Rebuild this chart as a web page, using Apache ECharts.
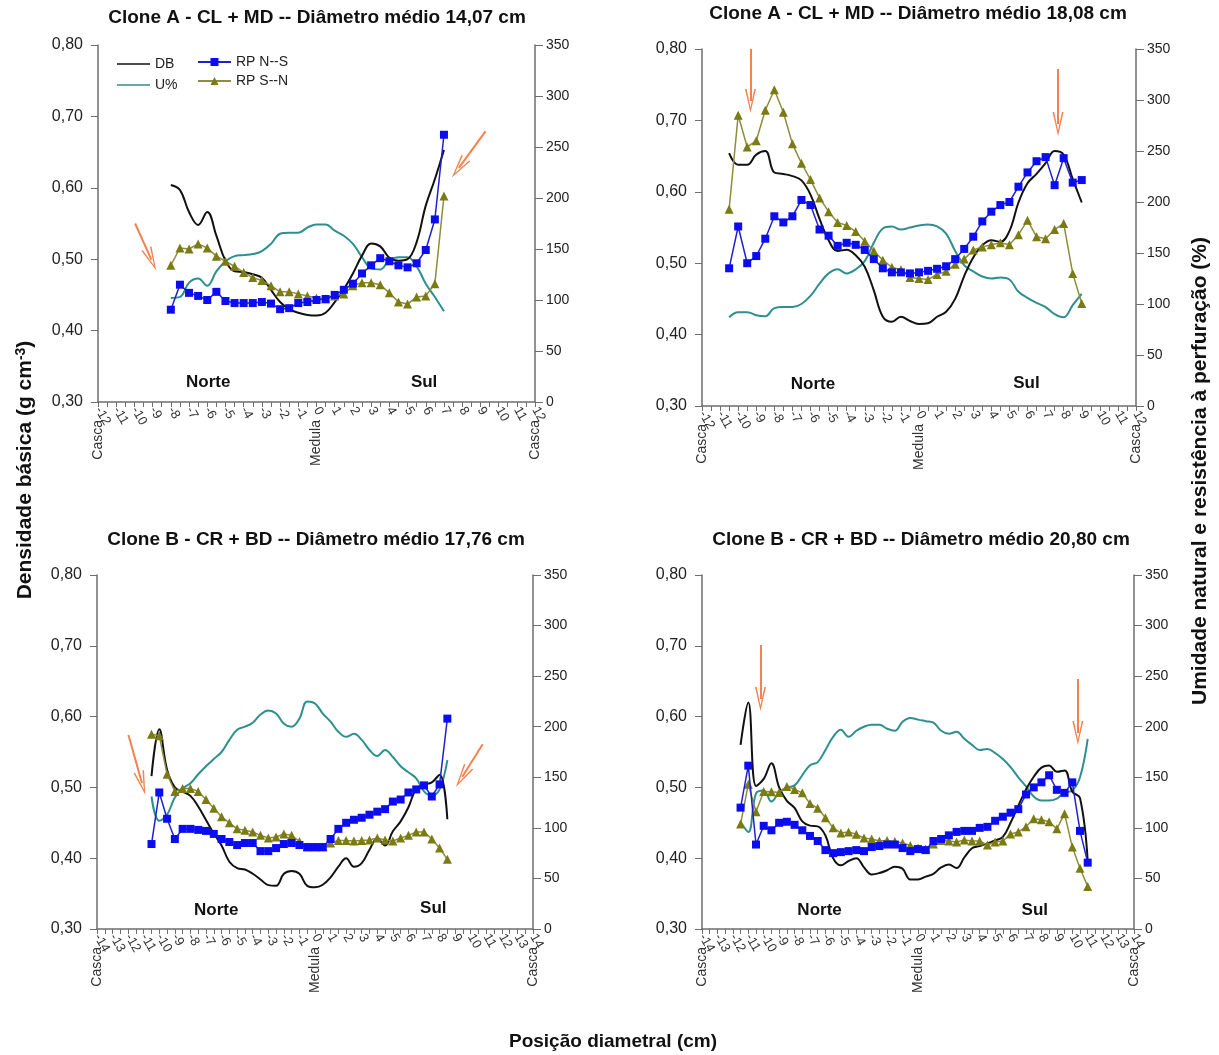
<!DOCTYPE html>
<html>
<head>
<meta charset="utf-8">
<title>Densidade básica, umidade e resistência à perfuração</title>
<script src="https://cdn.jsdelivr.net/npm/echarts/dist/echarts.min.js"></script>
<style>
  html, body { margin: 0; padding: 0; background: #fff; }
  #chart { width: 1219px; height: 1055px; }
</style>
</head>
<body>
<div id="chart"></div>
<script>
// posição diametral (cm) de cada leitura
const pos1 = [-8, -7.5, -7, -6.5, -6, -5.5, -5, -4.5, -4, -3.5, -3, -2.5, -2, -1.5, -1, -0.5, 0, 0.5, 1, 1.5, 2, 2.5, 3, 3.5, 4, 4.5, 5, 5.5, 6, 6.5, 7];
const pos2 = [-10.5, -10, -9.5, -9, -8.5, -8, -7.5, -7, -6.5, -6, -5.5, -5, -4.5, -4, -3.5, -3, -2.5, -2, -1.5, -1, -0.5, 0, 0.5, 1, 1.5, 2, 2.5, 3, 3.5, 4, 4.5, 5, 5.5, 6, 6.5, 7, 7.5, 8, 8.5, 9];
const pos3 = [-10.5, -10, -9.5, -9, -8.5, -8, -7.5, -7, -6.5, -6, -5.5, -5, -4.5, -4, -3.5, -3, -2.5, -2, -1.5, -1, -0.5, 0, 0.5, 1, 1.5, 2, 2.5, 3, 3.5, 4, 4.5, 5, 5.5, 6, 6.5, 7, 7.5, 8, 8.5];
const pos4 = [-11.5, -11, -10.5, -10, -9.5, -9, -8.5, -8, -7.5, -7, -6.5, -6, -5.5, -5, -4.5, -4, -3.5, -3, -2.5, -2, -1.5, -1, -0.5, 0, 0.5, 1, 1.5, 2, 2.5, 3, 3.5, 4, 4.5, 5, 5.5, 6, 6.5, 7, 7.5, 8, 8.5, 9, 9.5, 10, 10.5, 11];

// Clone A - 14,07 cm
const db1 = [0.604, 0.597, 0.566, 0.548, 0.566, 0.533, 0.498, 0.483, 0.482, 0.479, 0.474, 0.457, 0.440, 0.430, 0.425, 0.422, 0.421, 0.425, 0.440, 0.458, 0.480, 0.505, 0.522, 0.518, 0.502, 0.498, 0.500, 0.524, 0.575, 0.612, 0.653];
const u1 = [102, 103, 117, 121, 114, 128, 138, 143, 144, 145, 148, 155, 165, 166, 166, 171, 174, 174, 168, 163, 155, 142, 131, 130, 139, 142, 142, 133, 116, 103, 89];
const rpNS1 = [90.5, 115, 107, 104, 100, 108, 99, 97, 97, 97, 98, 96.5, 91, 92, 97, 98, 100, 101, 105, 110, 116, 126, 134, 141, 138, 134, 132, 136, 149, 179, 262];
const rpSN1 = [134, 151, 150, 155, 151, 143, 138, 133, 127, 122, 119, 114, 108, 108, 106, 104, 102, 101, 104, 106, 114, 117, 117, 115, 107, 98, 96, 103, 104, 116, 202];

// Clone A - 18,08 cm
const db2 = [0.654, 0.638, 0.638, 0.652, 0.657, 0.627, 0.625, 0.622, 0.616, 0.596, 0.562, 0.532, 0.517, 0.519, 0.511, 0.495, 0.462, 0.425, 0.418, 0.425, 0.419, 0.415, 0.416, 0.425, 0.432, 0.450, 0.482, 0.508, 0.525, 0.532, 0.530, 0.545, 0.585, 0.612, 0.625, 0.640, 0.657, 0.652, 0.618, 0.585];
const u2 = [87, 92, 92, 89, 88, 96, 97, 97, 100, 108, 120, 130, 134, 130, 134, 142, 160, 174, 176, 173, 175, 177, 178, 176, 169, 152, 138, 132, 127, 125, 126, 124, 112, 106, 101, 97, 90, 87, 99, 110];
const rpNS2 = [135, 176, 140, 147, 164, 186, 180, 186, 202, 197, 173, 167, 157, 160, 158, 153, 144, 135, 131, 131, 130, 131, 132.5, 134.5, 137, 144, 154, 166, 181, 190.5, 197, 200, 215, 229, 240, 244, 216.5, 243, 219, 221.5];
const rpSN2 = [193, 285, 254, 260, 290, 310, 288, 257, 238, 222, 204, 190.5, 180, 177, 171, 161.5, 152, 143, 136, 133.5, 126, 125, 124, 129, 132, 139, 144, 153, 156, 158, 160, 158, 168, 182, 166, 164, 173, 179, 130, 100.5];

// Clone B - 17,76 cm
const db3 = [0.516, 0.582, 0.525, 0.500, 0.494, 0.488, 0.473, 0.454, 0.435, 0.418, 0.395, 0.386, 0.384, 0.378, 0.370, 0.362, 0.361, 0.378, 0.382, 0.378, 0.361, 0.359, 0.3625, 0.373, 0.388, 0.400, 0.388, 0.393, 0.412, 0.428, 0.418, 0.438, 0.452, 0.472, 0.498, 0.504, 0.507, 0.518, 0.455];
const u3 = [131, 107, 113, 130, 139, 144, 153, 161, 168, 175, 187, 197, 200, 204, 212, 216, 213, 203, 200, 208, 225, 223, 213, 205, 195, 190, 193, 187, 177, 171, 177, 170, 161, 155, 149, 136, 132, 138, 167];
const rpNS3 = [84, 135, 109, 89, 99, 99, 98, 97, 94, 89, 86, 83, 85, 85, 77, 77, 80, 84, 85, 83, 81, 81, 81, 89, 99, 105, 108, 110, 113, 116, 118.5, 126, 128, 135, 138, 142, 131, 143, 208];
const rpSN3 = [192.5, 191, 153, 136, 139, 139, 136, 128, 119.5, 111, 105, 99, 97.6, 96, 92.6, 90, 91, 94, 92.6, 86.5, 81, 81, 81, 85, 87.5, 87.5, 87, 87.5, 88, 90, 88, 87, 90, 92.6, 96, 96, 89, 80, 69];

// Clone B - 20,80 cm
const db4 = [0.560, 0.620, 0.502, 0.512, 0.534, 0.500, 0.481, 0.471, 0.452, 0.446, 0.445, 0.432, 0.400, 0.390, 0.396, 0.400, 0.387, 0.377, 0.379, 0.383, 0.388, 0.385, 0.370, 0.370, 0.374, 0.378, 0.387, 0.391, 0.386, 0.401, 0.414, 0.417, 0.421, 0.425, 0.430, 0.450, 0.474, 0.497, 0.515, 0.528, 0.531, 0.522, 0.524, 0.494, 0.485, 0.396];
const u4 = [106, 96, 134, 137, 126, 135, 140, 142, 152, 162, 165, 177, 190, 197, 190, 196, 200, 202, 202, 198, 196, 205, 208.7, 207, 205.5, 204, 196, 193, 195, 188, 182, 177, 178, 174, 168, 160, 150, 141, 131, 127, 127, 129, 135, 137, 150, 188];
const rpNS4 = [120, 161.5, 83.5, 102, 97.6, 105, 106, 103, 97.6, 92, 87, 78, 75, 76, 77, 78, 77, 81, 82, 83.5, 83.5, 80, 77, 79, 78, 87, 89, 92.6, 96, 97, 97, 100, 101, 107, 111, 115, 118.5, 133, 140, 145, 152, 137.6, 134.6, 145, 97, 65.6];
const rpSN4 = [103.7, 143, 116, 136, 135.6, 135, 141, 138, 134.6, 124, 119.5, 110, 100, 95, 96, 93.6, 90, 89, 87, 87.5, 86.5, 85, 82.5, 80, 79, 84, 87.5, 87, 86, 88, 87, 87, 83, 86, 87, 94, 96, 101, 109, 108, 106, 99, 114, 81, 60, 42];

// setas laranja: [x inicio, y inicio, x fim, y fim] em unidades dos eixos
const arrows1 = [[-9.96, 0.550, -9.07, 0.4995], [9.28, 0.679, 7.82, 0.628]];
const arrows2 = [[-9.32, 0.800, -9.32, 0.727], [7.69, 0.772, 7.69, 0.695]];
const arrows3 = [[-11.98, 0.574, -11.11, 0.506], [10.77, 0.561, 9.46, 0.515]];
const arrows4 = [[-10.21, 0.701, -10.21, 0.625], [10.36, 0.653, 10.36, 0.577]];

const notes1 = [['Norte', -5.95, 0.327], ['Sul', 5.91, 0.328]];
const notes2 = [['Norte', -5.86, 0.331], ['Sul', 5.94, 0.332]];
const notes3 = [['Norte', -6.34, 0.327], ['Sul', 7.6, 0.329]];
const notes4 = [['Norte', -6.38, 0.327], ['Sul', 7.57, 0.327]];

const titles = [
  'Clone A - CL + MD -- Diâmetro médio 14,07 cm',
  'Clone A - CL + MD -- Diâmetro médio 18,08 cm',
  'Clone B - CR + BD -- Diâmetro médio 17,76 cm',
  'Clone B - CR + BD -- Diâmetro médio 20,80 cm'
];

const font = '"Liberation Sans", Arial, sans-serif';
const axisColor = '#6e6e6e';
const arrowColor = '#f2824f';
const chevron = 'path://M5.5,0 L11,24 L9.4,24 L5.5,5.5 L1.6,24 L0,24 Z';
const lineIcon = 'path://M0,0 L40,0 L40,2 L0,2 Z';

const panels = [
  {grid: {left: 98, top: 45, width: 437, height: 357}, xMin: -12, xMax: 12, tx: 317, ty: 18,
   pos: pos1, db: db1, u: u1, ns: rpNS1, sn: rpSN1, arrows: arrows1, notes: notes1},
  {grid: {left: 702, top: 49, width: 434, height: 357}, xMin: -12, xMax: 12, tx: 918, ty: 14,
   pos: pos2, db: db2, u: u2, ns: rpNS2, sn: rpSN2, arrows: arrows2, notes: notes2},
  {grid: {left: 97, top: 575, width: 436, height: 354}, xMin: -14, xMax: 14, tx: 316, ty: 540,
   pos: pos3, db: db3, u: u3, ns: rpNS3, sn: rpSN3, arrows: arrows3, notes: notes3},
  {grid: {left: 702, top: 575, width: 432, height: 354}, xMin: -14, xMax: 14, tx: 921, ty: 540,
   pos: pos4, db: db4, u: u4, ns: rpNS4, sn: rpSN4, arrows: arrows4, notes: notes4}
];

const pairs = (xs, ys) => xs.map((x, i) => [x, ys[i]]);

const grids = [], xAxes = [], yAxes = [], series = [], graphics = [];

panels.forEach((p, i) => {
  grids.push(Object.assign({containLabel: false, outerBoundsMode: 'none'}, p.grid));

  xAxes.push({
    type: 'value', gridIndex: i, position: 'bottom', min: p.xMin, max: p.xMax, interval: 1,
    axisLine: {show: true, onZero: false, lineStyle: {color: axisColor, width: 1.5}},
    axisTick: {show: true, length: 5, lineStyle: {color: axisColor}},
    minorTick: {show: true, splitNumber: 2, length: 5, lineStyle: {color: axisColor}},
    splitLine: {show: false},
    axisLabel: {rotate: -60, margin: 6, fontSize: 13, color: '#333', fontFamily: font,
      showMinLabel: true, showMaxLabel: true}
  });
  // segunda linha de rótulos: Casca / Medula / Casca
  xAxes.push({
    type: 'value', gridIndex: i, position: 'bottom', min: p.xMin, max: p.xMax, interval: p.xMax,
    axisLine: {show: false, onZero: false}, axisTick: {show: false}, splitLine: {show: false},
    axisLabel: {rotate: 90, margin: 18, fontSize: 14, color: '#333', fontFamily: font,
      formatter: v => (v === 0 ? 'Medula' : 'Casca')}
  });

  yAxes.push({
    type: 'value', gridIndex: i, position: 'left', min: 0.3, max: 0.8, interval: 0.1,
    axisLine: {show: true, onZero: false, lineStyle: {color: axisColor, width: 1.5}},
    axisTick: {show: true, length: 7, lineStyle: {color: axisColor}},
    splitLine: {show: false},
    axisLabel: {margin: 15, fontSize: 16, color: '#222', fontFamily: font,
      formatter: v => v.toFixed(2).replace('.', ',')}
  });
  yAxes.push({
    type: 'value', gridIndex: i, position: 'right', min: 0, max: 350, interval: 50,
    axisLine: {show: true, onZero: false, lineStyle: {color: axisColor, width: 1.5}},
    axisTick: {show: true, length: 8, lineStyle: {color: axisColor}},
    splitLine: {show: false},
    axisLabel: {margin: 11, fontSize: 14, color: '#222', fontFamily: font}
  });

  series.push({
    name: 'U%', type: 'line', xAxisIndex: 2 * i, yAxisIndex: 2 * i + 1,
    data: pairs(p.pos, p.u), smooth: 0.4, symbol: 'none', z: 2,
    lineStyle: {color: '#2d8f8f', width: 2}, itemStyle: {color: '#2d8f8f'}
  });
  series.push({
    name: 'DB', type: 'line', xAxisIndex: 2 * i, yAxisIndex: 2 * i,
    data: pairs(p.pos, p.db), smooth: 0.4, symbol: 'none', z: 3,
    lineStyle: {color: '#111', width: 2}, itemStyle: {color: '#111'},
    markLine: {
      silent: true, animation: false, symbol: ['none', chevron], symbolSize: [11, 24],
      label: {show: false}, lineStyle: {color: arrowColor, width: 2, type: 'solid'},
      data: p.arrows.map(a => [{coord: [a[0], a[1]]}, {coord: [a[2], a[3]]}])
    },
    markPoint: {
      silent: true, animation: false, symbol: 'circle', symbolSize: 1,
      itemStyle: {color: 'rgba(0,0,0,0)'},
      label: {show: true, position: 'inside', formatter: '{b}', fontSize: 17,
        fontWeight: 'bold', color: '#111', fontFamily: font},
      data: p.notes.map(n => ({name: n[0], coord: [n[1], n[2]]}))
    }
  });
  series.push({
    name: 'RP S--N', type: 'line', xAxisIndex: 2 * i, yAxisIndex: 2 * i + 1,
    data: pairs(p.pos, p.sn), symbol: 'triangle', symbolSize: 9, z: 4,
    lineStyle: {color: '#8d8d3a', width: 1.5}, itemStyle: {color: '#7b7b14'}
  });
  series.push({
    name: 'RP N--S', type: 'line', xAxisIndex: 2 * i, yAxisIndex: 2 * i + 1,
    data: pairs(p.pos, p.ns), symbol: 'rect', symbolSize: 8, z: 5,
    lineStyle: {color: '#2020d0', width: 1.5}, itemStyle: {color: '#0c0cf0'}
  });

  graphics.push({
    type: 'text', x: p.tx, y: p.ty, silent: true,
    style: {text: titles[i], align: 'center', verticalAlign: 'middle',
      textAlign: 'center', textVerticalAlign: 'middle',
      fontSize: 19, fontWeight: 'bold', fontFamily: font, fill: '#111'}
  });
});

graphics.push({
  type: 'text', x: 25, y: 470, rotation: Math.PI / 2, silent: true,
  style: {text: 'Densidade básica (g cm{sup|-3})', align: 'center', verticalAlign: 'middle',
    textAlign: 'center', textVerticalAlign: 'middle',
    fontSize: 21, fontWeight: 'bold', fontFamily: font, fill: '#111',
    rich: {sup: {fontSize: 14, fontWeight: 'bold', fontFamily: font, verticalAlign: 'top', fill: '#111'}}}
});
graphics.push({
  type: 'text', x: 1200, y: 471, rotation: Math.PI / 2, silent: true,
  style: {text: 'Umidade natural e resistência à perfuração (%)', align: 'center', verticalAlign: 'middle',
    textAlign: 'center', textVerticalAlign: 'middle',
    fontSize: 21, fontWeight: 'bold', fontFamily: font, fill: '#111'}
});
graphics.push({
  type: 'text', x: 613, y: 1042, silent: true,
  style: {text: 'Posição diametral (cm)', align: 'center', verticalAlign: 'middle',
    textAlign: 'center', textVerticalAlign: 'middle',
    fontSize: 19, fontWeight: 'bold', fontFamily: font, fill: '#111'}
});

const legendText = {fontSize: 14, color: '#222', fontFamily: font};

const chart = echarts.init(document.getElementById('chart'), null, {renderer: 'canvas'});
chart.setOption({
  animation: false,
  backgroundColor: '#fff',
  textStyle: {fontFamily: font},
  legend: [
    {data: [{name: 'DB', icon: lineIcon}, {name: 'U%', icon: lineIcon}],
     left: 117, top: 57, orient: 'vertical', padding: 0,
     itemWidth: 33, itemHeight: 2, itemGap: 7, selectedMode: false, textStyle: legendText},
    {data: ['RP N--S', 'RP S--N'], left: 197, top: 55, orient: 'vertical', padding: 0,
     itemWidth: 33, itemHeight: 10, itemGap: 5, selectedMode: false, textStyle: legendText}
  ],
  grid: grids,
  xAxis: xAxes,
  yAxis: yAxes,
  series: series,
  graphic: graphics
});
</script>
</body>
</html>
